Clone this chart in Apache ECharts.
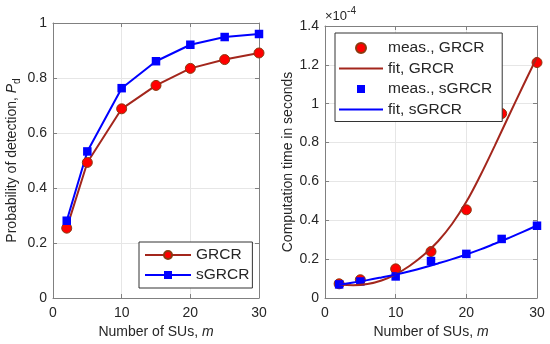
<!DOCTYPE html>
<html>
<head>
<meta charset="utf-8">
<script src="https://cdn.jsdelivr.net/npm/echarts@6/dist/echarts.min.js"></script>
<style>html,body{margin:0;padding:0;background:#fff;}#c{width:550px;height:344px;}</style>
</head>
<body>
<div id="c"></div>
<script>
// ---- data ----
const mValues = [2, 5, 10, 15, 20, 25, 30];
const pdGRCR = [0.254, 0.493, 0.688, 0.773, 0.835, 0.867, 0.891];
const pdSGRCR = [0.281, 0.533, 0.763, 0.861, 0.921, 0.949, 0.960];
// computation time, in units of 1e-4 s
const measGRCR = [0.073, 0.094, 0.150, 0.239, 0.454, 0.949, 1.212];
const measSGRCR = [0.070, 0.085, 0.111, 0.190, 0.227, 0.304, 0.372];
const fitM = [2, 4, 6, 8, 10, 12, 14, 16, 18, 20, 22, 24, 26, 28, 30];
const fitGRCR = [0.070, 0.066, 0.072, 0.090, 0.122, 0.166, 0.222, 0.292, 0.382, 0.495, 0.632, 0.782, 0.937, 1.090, 1.240];
const fitSGRCR = [0.068, 0.080, 0.092, 0.106, 0.121, 0.138, 0.157, 0.178, 0.200, 0.224, 0.250, 0.279, 0.309, 0.340, 0.373];
const xTicks = [0, 10, 20, 30];
const pdTicks = [0, 0.2, 0.4, 0.6, 0.8, 1];
const timeTicks = [0, 0.2, 0.4, 0.6, 0.8, 1, 1.2, 1.4];
const timeExponent = '-4';

const zip = (xs, ys) => xs.map((x, i) => [x, ys[i]]);
const FONT = '"Liberation Sans", Arial, Helvetica, sans-serif';
const AX = '#808080', TXT = '#262626', GRIDC = '#e6e6e6';
const RED_LINE = '#a3261c', RED_FILL = '#ff0000', RED_EDGE = '#8a3a10', BLUE = '#0000ff';
const ICON_LINE = 'path://M0,0L44,0L44,2L0,2Z';
const ICON_SQUARE = 'path://M0,0L0,0M1,1L9,1L9,9L1,9ZM10,10L10,10';

function mainX(gi) {
  return {
    type: 'value', gridIndex: gi, min: xTicks[0], max: xTicks[xTicks.length - 1], interval: 10,
    name: 'Number of SUs, {i|m}', nameLocation: 'middle', nameGap: 26,
    nameTextStyle: { fontFamily: FONT, fontSize: 14, color: TXT, rich: { i: { fontFamily: FONT, fontSize: 14, fontStyle: 'italic', color: TXT } } },
    axisLine: { show: true, lineStyle: { color: AX, width: 1 } },
    axisTick: { show: true, inside: true, length: 4, lineStyle: { color: AX } },
    axisLabel: { fontFamily: FONT, fontSize: 14, color: TXT, margin: 8 },
    splitLine: { show: true, lineStyle: { color: GRIDC, width: 1 } }
  };
}
function boxX(gi) {
  return {
    type: 'value', gridIndex: gi, position: 'top', min: xTicks[0], max: xTicks[xTicks.length - 1], interval: 10,
    axisLine: { show: true, onZero: false, lineStyle: { color: AX, width: 1 } },
    axisTick: { show: true, inside: true, length: 4, lineStyle: { color: AX } },
    axisLabel: { show: false }, splitLine: { show: false }
  };
}
function mainY(gi, ticks, name, nameGap) {
  return {
    type: 'value', gridIndex: gi, min: 0, max: ticks[ticks.length - 1], interval: 0.2,
    name: name, nameLocation: 'middle', nameGap: nameGap,
    nameTextStyle: {
      fontFamily: FONT, fontSize: 14, color: TXT,
      rich: {
        p: { fontFamily: FONT, fontSize: 14, fontStyle: 'italic', color: TXT },
        d: { fontFamily: FONT, fontSize: 10, color: TXT, padding: [10, 0, 0, 0] }
      }
    },
    axisLine: { show: true, lineStyle: { color: AX, width: 1 } },
    axisTick: { show: true, inside: true, length: 4, lineStyle: { color: AX } },
    axisLabel: { fontFamily: FONT, fontSize: 14, color: TXT, margin: 6 },
    splitLine: { show: true, lineStyle: { color: GRIDC, width: 1 } }
  };
}
function boxY(gi, ticks) {
  return {
    type: 'value', gridIndex: gi, position: 'right', min: 0, max: ticks[ticks.length - 1], interval: 0.2,
    axisLine: { show: true, onZero: false, lineStyle: { color: AX, width: 1 } },
    axisTick: { show: true, inside: true, length: 4, lineStyle: { color: AX } },
    axisLabel: { show: false }, splitLine: { show: false }
  };
}

const chart = echarts.init(document.getElementById('c'), null, { renderer: 'canvas' });
chart.setOption({
  animation: false,
  backgroundColor: '#ffffff',
  grid: [
    { left: 53, right: 291, top: 23, bottom: 46 },
    { left: 325, right: 13, top: 26, bottom: 46 }
  ],
  xAxis: [mainX(0), mainX(1), boxX(0), boxX(1)],
  yAxis: [
    mainY(0, pdTicks, 'Probability of detection, {p|P}{d|d}', 31),
    mainY(1, timeTicks, 'Computation time in seconds', 30),
    boxY(0, pdTicks), boxY(1, timeTicks)
  ],
  legend: [
    {
      left: 139, top: 242, orient: 'vertical', itemWidth: 46, itemHeight: 10, itemGap: 4,
      padding: [5, 3, 5, 5], borderColor: '#333', borderWidth: 1, backgroundColor: '#fff',
      textStyle: { fontFamily: FONT, fontSize: 15.5, color: TXT },
      data: ['GRCR', 'sGRCR']
    },
    {
      left: 335, top: 33, orient: 'vertical', itemWidth: 44, itemHeight: 10, itemGap: 4.5,
      padding: [7, 10, 4, 4], borderColor: '#333', borderWidth: 1, backgroundColor: '#fff',
      textStyle: { fontFamily: FONT, fontSize: 15.5, color: TXT },
      symbolKeepAspect: true,
      data: [
        { name: 'meas., GRCR', icon: 'circle' },
        { name: 'fit, GRCR', icon: ICON_LINE },
        { name: 'meas., sGRCR', icon: ICON_SQUARE },
        { name: 'fit, sGRCR', icon: ICON_LINE }
      ]
    }
  ],
  graphic: [
    {
      type: 'text', left: 325, top: 6,
      style: {
        text: '×10{s|' + timeExponent + '}', fontFamily: FONT, fontSize: 13, fill: TXT,
        rich: { s: { fontFamily: FONT, fontSize: 10, fill: TXT, padding: [0, 0, 10, 0] } }
      }
    }
  ],
  series: [
    {
      name: 'GRCR', type: 'line', xAxisIndex: 0, yAxisIndex: 0, data: zip(mValues, pdGRCR),
      symbol: 'circle', symbolSize: 10, showAllSymbol: true,
      lineStyle: { color: RED_LINE, width: 2 },
      itemStyle: { color: RED_FILL, borderColor: RED_EDGE, borderWidth: 1 }
    },
    {
      name: 'sGRCR', type: 'line', xAxisIndex: 0, yAxisIndex: 0, data: zip(mValues, pdSGRCR),
      symbol: 'rect', symbolSize: 8.5,
      lineStyle: { color: BLUE, width: 2 },
      itemStyle: { color: BLUE, borderColor: BLUE, borderWidth: 0 }
    },
    {
      name: 'meas., GRCR', type: 'scatter', xAxisIndex: 1, yAxisIndex: 1, data: zip(mValues, measGRCR),
      symbol: 'circle', symbolSize: 10,
      itemStyle: { color: RED_FILL, borderColor: RED_EDGE, borderWidth: 1, opacity: 1 }
    },
    {
      name: 'fit, GRCR', type: 'line', xAxisIndex: 1, yAxisIndex: 1, data: zip(fitM, fitGRCR),
      smooth: 0.4, showSymbol: false, symbol: 'none',
      lineStyle: { color: RED_LINE, width: 2 }, itemStyle: { color: RED_LINE }
    },
    {
      name: 'meas., sGRCR', type: 'scatter', xAxisIndex: 1, yAxisIndex: 1, data: zip(mValues, measSGRCR),
      symbol: 'rect', symbolSize: 8.5,
      itemStyle: { color: BLUE, opacity: 1 }
    },
    {
      name: 'fit, sGRCR', type: 'line', xAxisIndex: 1, yAxisIndex: 1, data: zip(fitM, fitSGRCR),
      smooth: 0.4, showSymbol: false, symbol: 'none',
      lineStyle: { color: BLUE, width: 2 }, itemStyle: { color: BLUE }
    }
  ]
});
</script>
</body>
</html>
